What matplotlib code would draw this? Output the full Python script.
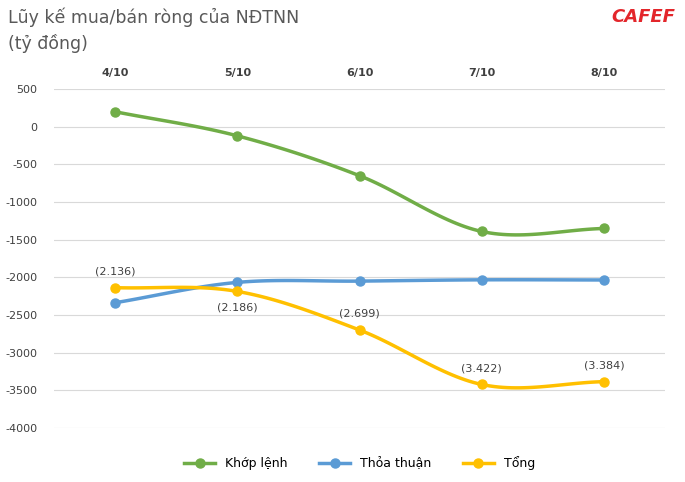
import numpy as np
import matplotlib.pyplot as plt

dates = ["4/10", "5/10", "6/10", "7/10", "8/10"]
khop_lenh = [200, -120, -650, -1390, -1350]
thoa_thuan = [-2336, -2066, -2049, -2032, -2034]
tong = [-2136, -2186, -2699, -3422, -3384]
tong_labels = ["(2.136)", "(2.186)", "(2.699)", "(3.422)", "(3.384)"]
label_above = [True, False, True, True, True]
y_ticks = list(range(-4000, 501, 500))


def smooth(xs, ys, n=30):
    # Catmull-Rom spline through the points, for drawing only
    xs = np.asarray(xs, float)
    ys = np.asarray(ys, float)
    px = np.concatenate([[2 * xs[0] - xs[1]], xs, [2 * xs[-1] - xs[-2]]])
    py = np.concatenate([[2 * ys[0] - ys[1]], ys, [2 * ys[-1] - ys[-2]]])
    ox, oy = [], []
    for i in range(1, len(px) - 2):
        t = np.linspace(0, 1, n)
        for p, out in ((px, ox), (py, oy)):
            p0, p1, p2, p3 = p[i - 1], p[i], p[i + 1], p[i + 2]
            out.extend(0.5 * (2 * p1 + (-p0 + p2) * t + (2 * p0 - 5 * p1 + 4 * p2 - p3) * t**2
                              + (-p0 + 3 * p1 - 3 * p2 + p3) * t**3))
    return ox, oy


fig = plt.figure(figsize=(6.85, 4.82), dpi=100)
ax = fig.add_axes([0.079, 0.112, 0.892, 0.703])
x = np.arange(len(dates))

series = [("Khớp lệnh", khop_lenh, "#70AD47"),
          ("Thỏa thuận", thoa_thuan, "#5B9BD5"),
          ("Tổng", tong, "#FFC000")]
for name, vals, col in series:
    sx, sy = smooth(x, vals)
    ax.plot(sx, sy, color=col, lw=2.5, zorder=3)
    ax.plot(x, vals, "o", color=col, ms=6.5, zorder=4)
    ax.plot([], [], "-o", color=col, lw=2.5, ms=6.5, label=name)

for xi, v, lab, up in zip(x, tong, tong_labels, label_above):
    ax.annotate(lab, (xi, v), xytext=(0, 8 if up else -8), textcoords="offset points",
                ha="center", va="bottom" if up else "top", fontsize=8, color="#404040")

ax.set_xlim(-0.5, len(dates) - 0.5)
ax.set_ylim(-4000, 500)
ax.set_yticks(y_ticks)
ax.set_yticklabels([str(v) for v in y_ticks])
ax.tick_params(axis="y", length=0, labelsize=8, colors="#404040", pad=12)
ax.xaxis.tick_top()
ax.set_xticks(x)
ax.set_xticklabels(dates, fontweight="bold", fontsize=8, color="#404040")
ax.tick_params(axis="x", length=0, pad=8)
ax.grid(axis="y", color="#D9D9D9", lw=0.8)
ax.set_axisbelow(True)
for s in ax.spines.values():
    s.set_visible(False)

ax.legend(loc="upper center", bbox_to_anchor=(0.5, -0.05), ncol=3, frameon=False,
          fontsize=9, columnspacing=2.5, handlelength=2.5)

fig.text(0.012, 0.965, "Lũy kế mua/bán ròng của NĐTNN", fontsize=12.5, color="#595959", va="center")
fig.text(0.012, 0.91, "(tỷ đồng)", fontsize=12.5, color="#595959", va="center")
fig.text(0.985, 0.965, "CAFEF", fontsize=13, color="#E3262B", fontweight="bold",
         fontstyle="italic", ha="right", va="center")

fig.savefig("out.png", dpi=100)
